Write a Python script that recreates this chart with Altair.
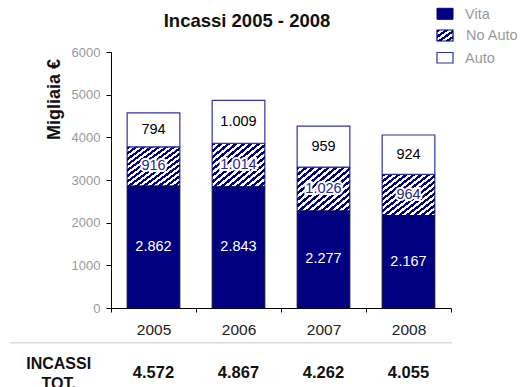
import altair as alt
import pandas as pd

# ---- data -------------------------------------------------------------
years = ["2005", "2006", "2007", "2008"]
series = ["Vita", "No Auto", "Auto"]
vita = [2862, 2843, 2277, 2167]
no_auto = [916, 1014, 1026, 964]
auto = [794, 1009, 959, 924]
totals = [4572, 4867, 4262, 4055]
y_ticks = [0, 1000, 2000, 3000, 4000, 5000, 6000]

NAVY = "#000080"
GRAY = "#9a9a9a"
FONT = "Liberation Sans"

# stacked segments: each series sits on top of the previous ones
rows = []
for i, anno in enumerate(years):
    base = 0
    for name, vals in zip(series, [vita, no_auto, auto]):
        v = vals[i]
        rows.append({"anno": anno, "serie": name, "valore": v,
                     "y0": base, "y1": base + v, "ymid": base + v / 2})
        base += v
df = pd.DataFrame(rows)
tot_df = pd.DataFrame({"anno": years, "totale": totals})
legend_df = pd.DataFrame({"serie": series})

# Italian thousands separator
fmt_expr = "replace(format(datum.{f}, ','), ',', '.')"


def stripes(n, frac=0.5, c1=NAVY, c2="white"):
    """Diagonal hatch built from a hard-stop linear gradient."""
    stops = []
    for k in range(n):
        a, b, c = k / n, (k + frac) / n, (k + 1) / n
        stops += [alt.GradientStop(offset=a, color=c1),
                  alt.GradientStop(offset=b, color=c1),
                  alt.GradientStop(offset=b, color=c2),
                  alt.GradientStop(offset=c, color=c2)]
    return alt.LinearGradient(gradient="linear", stops=stops,
                              x1=0, y1=0, x2=1, y2=1)


x_enc = alt.X(
    "anno:N", sort=years, title=None,
    scale=alt.Scale(paddingInner=0, paddingOuter=0),
    axis=alt.Axis(tickBand="extent", labelAngle=0, labelFont=FONT,
                  labelFontSize=15.5, labelColor="#222", tickSize=4,
                  tickColor="black", domainColor="black", labelPadding=10,
                  grid=False),
)
y_enc = alt.Y(
    "y1:Q", title="Migliaia €",
    scale=alt.Scale(domain=[0, 6000], nice=False),
    axis=alt.Axis(values=y_ticks, format="d", grid=False, labelFont=FONT,
                  labelFontSize=13, labelColor=GRAY, tickSize=5,
                  tickColor="black", domainColor="black", labelPadding=6,
                  titleFont=FONT, titleFontSize=18, titleFontWeight="bold",
                  titleColor="#111", titleAngle=270, titleAlign="center",
                  titleBaseline="alphabetic", titleX=-52, titleY=47),
)

base = alt.Chart(df).encode(x=x_enc)
bar_w = {"band": 0.62}

vita_bars = base.transform_filter("datum.serie == 'Vita'").mark_bar(
    width=bar_w, fill=NAVY, stroke="#101030", strokeWidth=1
).encode(y=y_enc, y2="y0:Q")

noauto_bars = base.transform_filter("datum.serie == 'No Auto'").mark_bar(
    width=bar_w, fill=stripes(14), stroke="#000060", strokeWidth=1
).encode(y="y1:Q", y2="y0:Q")

auto_bars = base.transform_filter("datum.serie == 'Auto'").mark_bar(
    width=bar_w, fill="white", stroke="#3333a0", strokeWidth=1.2
).encode(y="y1:Q", y2="y0:Q")

labels = base.transform_calculate(label=fmt_expr.format(f="valore"))

vita_txt = labels.transform_filter("datum.serie == 'Vita'").mark_text(
    font=FONT, fontSize=14.5, color="white", baseline="middle"
).encode(y="ymid:Q", text="label:N")

noauto_halo = labels.transform_filter("datum.serie == 'No Auto'").mark_text(
    font=FONT, fontSize=14.5, color="white", stroke="white", strokeWidth=4,
    baseline="middle"
).encode(y="ymid:Q", text="label:N")

noauto_txt = labels.transform_filter("datum.serie == 'No Auto'").mark_text(
    font=FONT, fontSize=14.5, color="#2a2a8a", baseline="middle"
).encode(y="ymid:Q", text="label:N")

auto_txt = labels.transform_filter("datum.serie == 'Auto'").mark_text(
    font=FONT, fontSize=14.5, color="black", baseline="middle"
).encode(y="ymid:Q", text="label:N")

# totals row beneath the axis
tot_txt = alt.Chart(tot_df).transform_calculate(
    label=fmt_expr.format(f="totale")
).mark_text(
    font=FONT, fontSize=16.5, fontWeight="bold", color="#111",
    baseline="middle"
).encode(x=alt.X("anno:N", sort=years), y=alt.value(320.5), text="label:N")

tot_head = alt.Chart(tot_df.head(1)).mark_text(
    font=FONT, fontSize=16, fontWeight="bold", color="#111",
    baseline="alphabetic", align="center", lineHeight=20,
    text=["INCASSI", "TOT."]
).encode(x=alt.value(-52.3), y=alt.value(316.7))

separator = alt.Chart(tot_df.head(1)).mark_rule(
    color="#dcdcdc", strokeWidth=1.5
).encode(x=alt.value(-100.5), x2=alt.value(341), y=alt.value(290.7))

title = alt.Chart(tot_df.head(1)).mark_text(
    font=FONT, fontSize=18.5, fontWeight="bold", color="#111",
    baseline="alphabetic", align="center", text="Incassi 2005 - 2008"
).encode(x=alt.value(136), y=alt.value(-25.5))

# legend
leg = alt.Chart(legend_df)
leg_vita = leg.transform_filter("datum.serie == 'Vita'").mark_rect(
    fill=NAVY, stroke=NAVY, strokeWidth=1
).encode(x=alt.value(326), x2=alt.value(342), y=alt.value(-43.7), y2=alt.value(-32.7))
leg_noauto = leg.transform_filter("datum.serie == 'No Auto'").mark_rect(
    fill=stripes(4), stroke=NAVY, strokeWidth=1.2
).encode(x=alt.value(326), x2=alt.value(342), y=alt.value(-22), y2=alt.value(-11))
leg_auto = leg.transform_filter("datum.serie == 'Auto'").mark_rect(
    fill="white", stroke="#3333a0", strokeWidth=1.2
).encode(x=alt.value(326), x2=alt.value(342), y=alt.value(0.5), y2=alt.value(11))

leg_text_vita = leg.transform_filter("datum.serie == 'Vita'").mark_text(
    font=FONT, fontSize=14.5, color=GRAY, align="left", baseline="alphabetic"
).encode(x=alt.value(354), y=alt.value(-33), text="serie:N")
leg_text_noauto = leg.transform_filter("datum.serie == 'No Auto'").mark_text(
    font=FONT, fontSize=14.5, color=GRAY, align="left", baseline="alphabetic"
).encode(x=alt.value(355), y=alt.value(-12), text="serie:N")
leg_text_auto = leg.transform_filter("datum.serie == 'Auto'").mark_text(
    font=FONT, fontSize=14.5, color=GRAY, align="left", baseline="alphabetic"
).encode(x=alt.value(354), y=alt.value(11), text="serie:N")

chart = alt.layer(
    vita_bars, noauto_bars, auto_bars,
    vita_txt, noauto_halo, noauto_txt, auto_txt,
    separator, tot_txt, tot_head, title,
    leg_vita, leg_noauto, leg_auto,
    leg_text_vita, leg_text_noauto, leg_text_auto,
).properties(
    width=340, height=256,
    padding={"left": 111, "top": 52, "right": 75, "bottom": 79},
    autosize=alt.AutoSizeParams(type="none"),
    background="white",
).configure_view(stroke=None)

chart.save("out.html", embed_options={"renderer": "svg", "actions": False})
